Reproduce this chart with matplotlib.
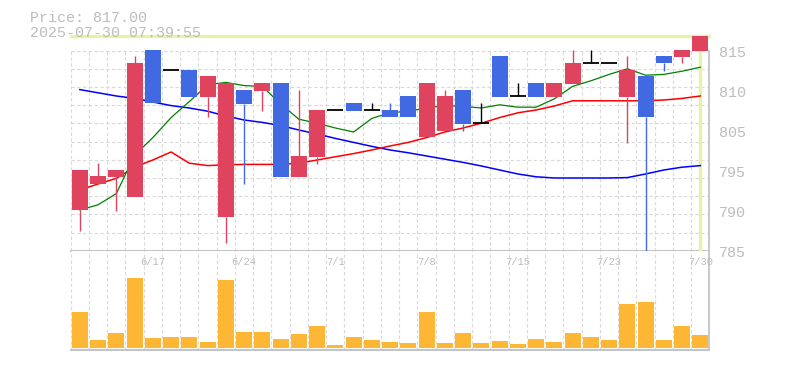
import matplotlib
matplotlib.use("Agg")
import matplotlib.pyplot as plt
import matplotlib.transforms as mtransforms
import numpy as np

# daily candles, 2025-06-11 .. 2025-07-30
dates = ["6/11", "6/12", "6/13", "6/16", "6/17", "6/18", "6/19", "6/20", "6/23", "6/24",
         "6/25", "6/26", "6/27", "6/30", "7/1", "7/2", "7/3", "7/4", "7/7", "7/8",
         "7/9", "7/10", "7/11", "7/14", "7/15", "7/16", "7/17", "7/18", "7/22", "7/23",
         "7/24", "7/25", "7/28", "7/29", "7/30"]
opens = [795.2, 798.5, 799.4, 796.9, 815.25, 812.7, 812.75, 809.4, 794.4, 810.25,
         810.15, 811.15, 799.4, 801.9, 807.7, 808.65, 807.7, 807.75, 809.5, 804.4,
         805.15, 810.25, 806.1, 814.5, 809.45, 811.15, 809.4, 811.0, 813.6, 813.6,
         809.4, 812.0, 814.5, 814.4, 815.15]
highs = [800.25, 801.15, 800.25, 814.5, 815.25, 812.7, 812.75, 812.0, 811.15, 810.25,
         811.15, 811.15, 810.25, 807.75, 807.7, 808.65, 808.65, 808.65, 809.5, 811.15,
         810.25, 810.25, 808.65, 814.5, 811.15, 811.15, 811.15, 815.25, 815.25, 813.6,
         814.5, 812.0, 814.5, 815.25, 817.0]
lows = [792.65, 798.5, 795.15, 796.9, 808.6, 812.7, 809.4, 806.9, 791.1, 798.5,
        807.65, 799.4, 799.4, 801.0, 807.7, 807.65, 807.7, 806.9, 806.9, 804.4,
        805.15, 805.15, 806.1, 809.4, 809.45, 809.4, 809.4, 811.0, 813.6, 813.6,
        803.6, 785.0, 812.65, 813.6, 815.15]
closes = [800.25, 799.5, 800.25, 813.65, 808.6, 812.7, 809.4, 812.0, 811.15, 808.5,
          811.15, 799.4, 802.0, 807.75, 807.7, 807.65, 807.7, 806.9, 806.9, 811.15,
          809.5, 806.0, 806.1, 809.4, 809.45, 809.4, 811.15, 813.65, 813.6, 813.6,
          812.75, 806.9, 813.6, 815.25, 817.0]
volumes = [37000, 8000, 15300, 71300, 10000, 11300, 11300, 6000, 69000, 16300,
           16300, 9300, 14000, 22000, 3000, 11300, 8000, 6300, 5000, 37000,
           5000, 15300, 5000, 7300, 4000, 9000, 6000, 15300, 11300, 8300,
           44300, 47000, 8300, 22000, 13000]
ma_short = [795.25, 795.9, 797.3, 802.1, 804.3, 806.8, 808.8, 810.9, 811.2, 810.8,
            810.7, 808.5, 806.6, 806.1, 805.5, 805.0, 806.7, 807.4, 807.6, 808.0,
            808.3, 808.2, 808.0, 808.4, 808.1, 808.1, 809.15, 810.7, 811.4, 812.2,
            812.9, 812.1, 812.2, 812.6, 813.1]
ma_mid = [797.75, 798.5, 799.2, 800.6, 801.5, 802.5, 801.1, 800.8, 800.9, 800.95,
          800.95, 800.95, 801.1, 801.5, 801.9, 802.3, 802.75, 803.25, 803.7, 804.3,
          805.0, 805.5, 806.1, 806.8, 807.4, 807.75, 808.25, 808.9, 808.9, 808.9,
          808.9, 808.9, 809.0, 809.2, 809.5]
ma_long = [810.3, 809.9, 809.5, 809.2, 808.75, 808.3, 808.0, 807.6, 807.0, 806.5,
           806.2, 805.8, 805.25, 804.75, 804.2, 803.7, 803.2, 802.75, 802.4, 802.0,
           801.6, 801.2, 800.75, 800.25, 799.75, 799.4, 799.25, 799.25, 799.25, 799.25,
           799.3, 799.75, 800.25, 800.6, 800.8]
label_every = 5
price_ticks = [815, 810, 805, 800, 795, 790]
price_tick_labels = ["815", "810", "805", "795", "790", "785"]
last_price = 817.00
stamp = "2025-07-30 07:39:55"

UP = "#e0435e"
DOWN = "#4169e1"
VOL = "#fdb735"
GRID = "#d9d9d9"
FRAME = "#c4c4c4"
TXT = "#bdbdbd"
PLINE = "#e4f4a4"
mono = "Liberation Mono"

W, H = 785, 370
fig = plt.figure(figsize=(W / 100, H / 100), dpi=100)

def box(left, top, right, bottom):
    return [left / W, 1 - bottom / H, (right - left) / W, (bottom - top) / H]

ax = fig.add_axes(box(70.7, 30, 709.5, 250.7))
axv = fig.add_axes(box(70.7, 250.7, 709.5, 350))

n = len(closes)
x = np.arange(n)
ax.set_xlim(-0.5, n - 0.5)
axv.set_xlim(-0.5, n - 0.5)
ax.set_ylim(790.16, 817.75)
axv.set_ylim(-2000, 98700)
grid_top = 815.16
for a in (ax, axv):
    a.set_xticks([])
    a.set_yticks([])
    for s in a.spines.values():
        s.set_visible(False)

dash = dict(color=GRID, lw=0.8, ls=(0, (3, 2.2)))
# horizontal grid in price panel
for gy in np.linspace(790.16, grid_top, 12)[1:]:
    ax.plot([-0.5, n - 0.5], [gy, gy], zorder=0, **dash)
# vertical grid
for gx in np.arange(-0.5, n - 0.6, 1.0):
    ax.plot([gx, gx], [790.16, grid_top], zorder=0, **dash)
    axv.plot([gx, gx], [-2000, 98700], zorder=0, **dash)

# frame lines
ax.plot([n - 0.5, n - 0.5], [790.16, grid_top], color=FRAME, lw=1.3, zorder=1, clip_on=False)
ax.plot([-0.5, n - 0.5], [790.16, 790.16], color=FRAME, lw=1.5, zorder=1, clip_on=False)
axv.plot([n - 0.5, n - 0.5], [-2000, 98700], color=FRAME, lw=1.3, zorder=1, clip_on=False)
axv.plot([-0.5, n - 0.5], [-2000, -2000], color=FRAME, lw=1.5, zorder=1, clip_on=False)

# current price marker
ax.plot([-0.5, n - 0.5], [last_price, last_price], color=PLINE, lw=2.4, zorder=1, clip_on=False)
ax.plot([x[-1], x[-1]], [790.4, last_price], color=PLINE, lw=2.4, zorder=1)

# moving averages
ax.plot(x, ma_long, color="#0000ff", lw=1.1, zorder=2)
ax.plot(x, ma_mid, color="#ff0000", lw=1.1, zorder=2)
ax.plot(x, ma_short, color="#008000", lw=0.9, zorder=2)

# candles
bw = 0.88
for i in range(n):
    o, h, l, c = opens[i], highs[i], lows[i], closes[i]
    if c > o:
        col = UP
    elif c < o:
        col = DOWN
    else:
        col = "black"
    top, bot = max(o, c), min(o, c)
    if h > top:
        ax.plot([i, i], [top, h], color=col, lw=1.0, zorder=3, solid_capstyle="butt")
    if l < bot:
        ax.plot([i, i], [l, bot], color=col, lw=1.0, zorder=3, solid_capstyle="butt")
    if c == o:
        ax.plot([i - bw / 2, i + bw / 2], [c, c], color="black", lw=1.3, zorder=4,
                solid_capstyle="butt")
    else:
        ax.bar(i, top - bot, bottom=bot, width=bw, color=col, lw=0, zorder=4, clip_on=False)

# volume
axv.bar(x, volumes, width=bw, color=VOL, lw=0, zorder=3)

# date labels inside the volume panel
tr = mtransforms.blended_transform_factory(axv.transData, axv.transAxes)
for i in range(n - 1, -1, -label_every):
    axv.text(i, 0.885, dates[i], transform=tr, ha="center", va="center",
             fontsize=7.6, color=TXT, family=mono)

# price labels on the right
trp = mtransforms.blended_transform_factory(ax.transAxes, ax.transData)
for v, lab in zip(price_ticks, price_tick_labels):
    ax.text(1.0 + 9.5 / (709.5 - 70.7), v - 0.12, lab, transform=trp, ha="left", va="center",
            fontsize=10.8, color=TXT, family=mono, clip_on=False)

fig.text(30 / W, 1 - 18 / H, f"Price: {last_price:.2f}", ha="left", va="center",
         fontsize=10.8, color=TXT, family=mono)
fig.text(30 / W, 1 - 33 / H, stamp, ha="left", va="center",
         fontsize=10.8, color=TXT, family=mono)

fig.savefig("out.png", dpi=100)
